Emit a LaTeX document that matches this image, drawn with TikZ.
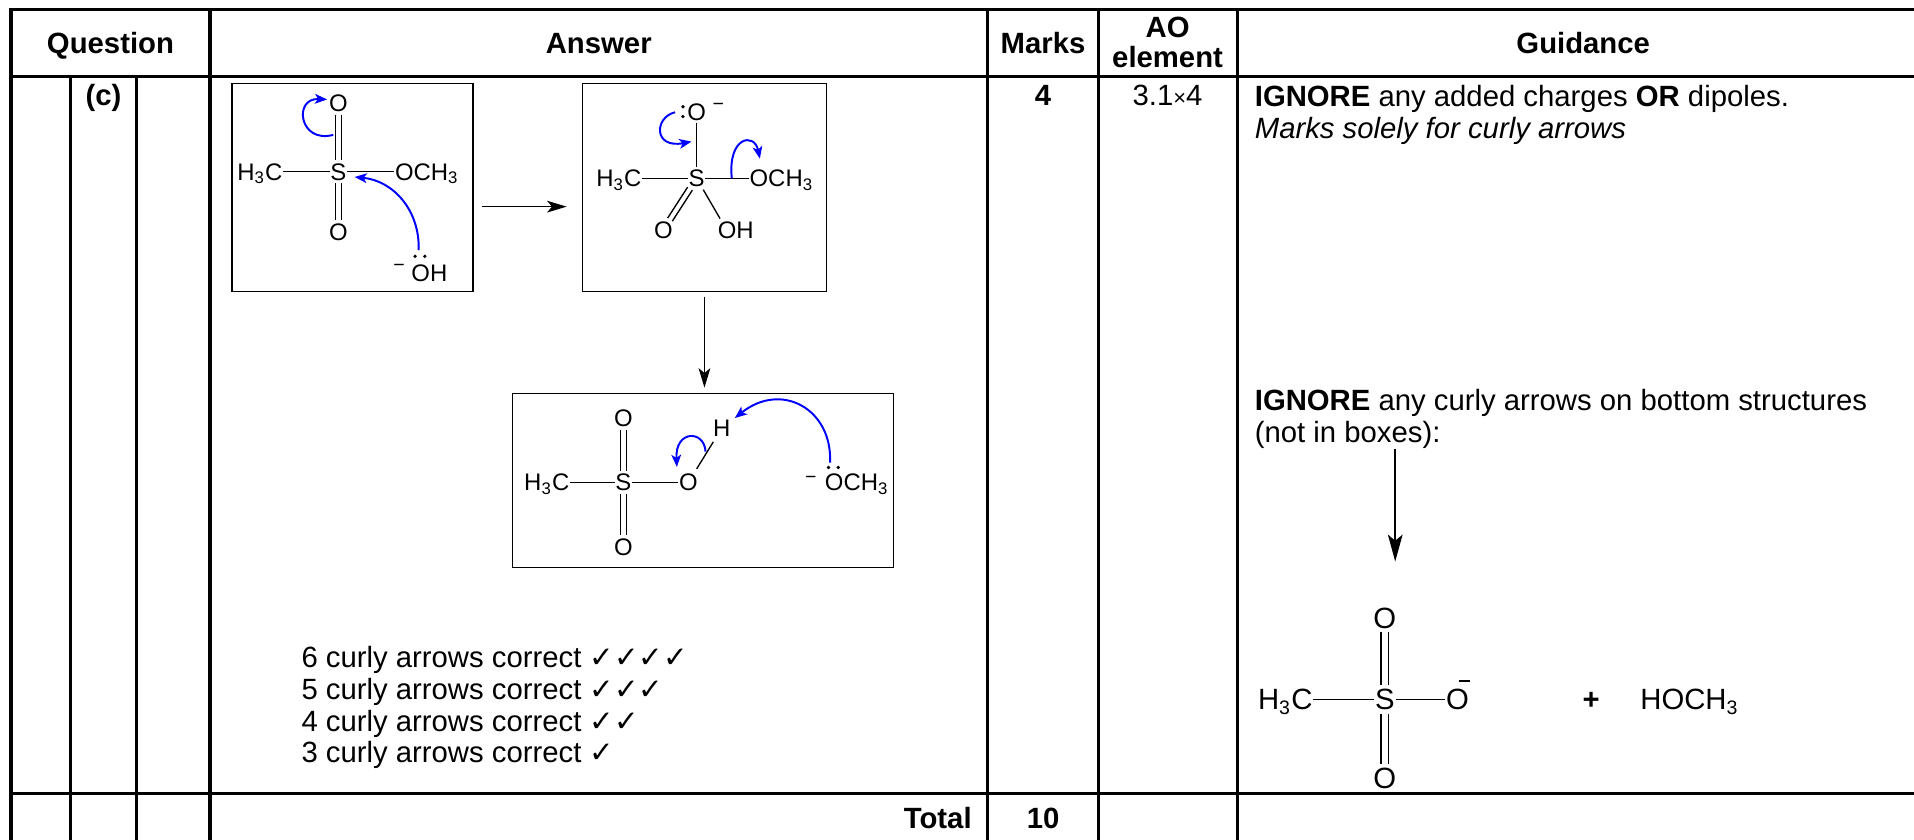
\documentclass[tikz,border=0pt]{standalone}
\usepackage{fontspec}
\setmainfont{Liberation Sans}
\newfontfamily\symfont{DejaVu Sans}
\usetikzlibrary{arrows.meta,calc}
\definecolor{arrblue}{RGB}{0,0,255}
\begin{document}
\begin{tikzpicture}[x=0.5pt,y=-0.5pt]
\tikzset{
  tbl/.style={line width=1.35pt, line cap=rect},
  txt/.style={font=\fontsize{12}{13.8}\selectfont, inner sep=0pt, outer sep=0pt, anchor=base},
  hdr/.style={txt, font=\fontsize{12}{13.8}\selectfont\bfseries},
  box/.style={draw, line width=0.6pt, inner sep=0pt, outer sep=0pt},
  chem/.style={font=\fontsize{9.8}{11}\selectfont, inner xsep=0.3pt, inner ysep=1.2pt, text height=7pt, text depth=0pt, outer sep=0pt},
  chemL/.style={font=\fontsize{12}{14}\selectfont, inner xsep=0.4pt, inner ysep=1.5pt, text height=8.6pt, text depth=0pt, outer sep=0pt},
  minus/.style={chem, font=\fontsize{8}{8}\selectfont},
  bond/.style={line width=0.55pt},
  bondL/.style={line width=0.65pt},
  curly/.style={draw=arrblue, line width=0.8pt, -{Stealth[length=5pt,width=4pt,inset=1.3pt]}},
  rxn/.style={line width=0.6pt, -{Stealth[length=8pt,width=4.8pt,inset=2pt]}},
  garrow/.style={line width=0.75pt, -{Stealth[length=11pt,width=6pt,inset=2.5pt]}},
  lp/.style={fill=black}
}
\fill[white] (0,0) rectangle (1568,688);
\useasboundingbox (0,0) rectangle (1568,688);

% ---------- table grid ----------
\draw[tbl] (9,8) -- (1580,8);
\draw[tbl] (9,62.8) -- (1580,62.8);
\draw[tbl] (9,650) -- (1580,650);
\draw[tbl] (9,8) -- (9,700);
\draw[tbl] (57.5,62.8) -- (57.5,700);
\draw[tbl] (112,62.8) -- (112,700);
\draw[tbl] (172,8) -- (172,700);
\draw[tbl] (809,8) -- (809,700);
\draw[tbl] (900,8) -- (900,700);
\draw[tbl] (1014,8) -- (1014,700);

% ---------- header ----------
\node[hdr] (hq) at (90.5,43.6) {Question};
\node[hdr] (ha) at (490.5,43.6) {Answer};
\node[hdr] (hm) at (854.5,43.6) {Marks};
\node[hdr] (hao) at (956.5,30.6) {AO};
\node[hdr] (hel) at (956.5,55.6) {element};
\node[hdr] (hg) at (1297,43.6) {Guidance};

% ---------- row texts ----------
\node[hdr] (qc) at (84.75,86.5) {(c)};
\node[hdr] (mk) at (854.5,86.5) {4};
\node[txt] (ao) at (956.5,86.5) {3.1{\fontsize{9}{9}\selectfont ×}4};
\node[txt, anchor=base west] (g1) at (1028,87.5) {\textbf{IGNORE} any added charges \textbf{OR} dipoles.};
\node[txt, anchor=base west] (g2) at (1028,113.5) {\textit{Marks solely for curly arrows}};
\node[txt, anchor=base west] (g3) at (1028,336.5) {\textbf{IGNORE} any curly arrows on bottom structures};
\node[txt, anchor=base west] (g4) at (1028,362.5) {(not in boxes):};

\node[txt, anchor=base west] (t6) at (247,547) {6 curly arrows correct {\symfont ✓✓✓✓}};
\node[txt, anchor=base west] (t5) at (247,573) {5 curly arrows correct {\symfont ✓✓✓}};
\node[txt, anchor=base west] (t4) at (247,599) {4 curly arrows correct {\symfont ✓✓}};
\node[txt, anchor=base west] (t3) at (247,625) {3 curly arrows correct {\symfont ✓}};

\node[hdr, anchor=base east] (tot) at (796,678.6) {Total};
\node[hdr] (ten) at (854.5,678.6) {10};

% ---------- boxes ----------
\node[box, minimum width=98.75pt, minimum height=85.35pt] (box1) at (288.75,153.65) {};
\node[box, minimum width=100.1pt, minimum height=85.35pt] (box2) at (577.1,153.65) {};
\node[box, minimum width=156.05pt, minimum height=71.4pt] (box3) at (575.75,393.6) {};

\coordinate (r1) at (0,169.3);
\draw[rxn, shorten <=3.6pt, shorten >=6.4pt] (box1.east |- r1) -- (box2.west |- r1);
\draw[rxn, shorten <=2pt, shorten >=2.3pt] (box2.south) -- (box2.south |- box3.north);

% ---------- box 1 ----------
\node[chem] (o1t) at (277.2,84.6) {O};
\node[chem] (s1) at (277.2,140.6) {S};
\node[chem] (o1b) at (277.2,189.8) {O};
\node[chem, anchor=east] (c1) at (232,140.6) {H\textsubscript{3}C};
\node[chem, anchor=west] (och1) at (323,140.6) {OCH\textsubscript{3}};
\node[chem, anchor=west] (oh1) at (336.5,224) {OH};
\node[minus] (m1) at (327,215.7) {−};
\fill[lp] (340,210) circle (0.75pt) (348,210) circle (0.75pt);
\draw[bond] (c1) -- (s1);
\draw[bond] (s1) -- (och1);
\draw[bond] ([xshift=-1.15pt]o1t.south) -- ([xshift=-1.15pt]s1.north);
\draw[bond] ([xshift=1.15pt]o1t.south) -- ([xshift=1.15pt]s1.north);
\draw[bond] ([xshift=-1.15pt]s1.south) -- ([xshift=-1.15pt]o1b.north);
\draw[bond] ([xshift=1.15pt]s1.south) -- ([xshift=1.15pt]o1b.north);
\coordinate (k1a) at (273,110.5);
\coordinate (k1b) at (268,81.5);
\draw[curly] (k1a) .. controls (245,118) and (240,80) .. (k1b);
\coordinate (k2a) at (343,205);
\coordinate (k2b) at (290.5,145);
\draw[curly] (k2a) .. controls (344,172) and (322,148) .. (k2b);

% ---------- box 2 ----------
\node[chem] (o2t) at (570.7,91.5) {O};
\node[minus] (m2) at (588.4,83.3) {−};
\fill[lp] (559.5,87.5) circle (0.75pt) (559.5,95.5) circle (0.75pt);
\node[chem] (s2) at (570.7,146.1) {S};
\node[chem, anchor=east] (c2) at (526,146.1) {H\textsubscript{3}C};
\node[chem, anchor=west] (och2) at (613.5,146.1) {OCH\textsubscript{3}};
\node[chem] (o2b) at (543.4,188.4) {O};
\node[chem, anchor=west] (oh2) at (587.5,188.4) {OH};
\coordinate (oh2c) at (595.3,188.4);
\draw[bond] (c2) -- (s2);
\draw[bond] (s2) -- (och2);
\draw[bond] (o2t) -- (s2);
\draw[bond] ($(s2)!0.2!(o2b)!1.15pt!90:(o2b)$) -- ($(o2b)!0.2!(s2)!1.15pt!-90:(s2)$);
\draw[bond] ($(s2)!0.2!(o2b)!1.15pt!-90:(o2b)$) -- ($(o2b)!0.2!(s2)!1.15pt!90:(s2)$);
\draw[bond] ($(s2)!0.22!(oh2c)$) -- ($(s2)!0.78!(oh2c)$);
\coordinate (k3a) at (553,92);
\coordinate (k3b) at (566.5,116);
\draw[curly] (k3a) .. controls (536,96) and (535,122) .. (k3b);
\coordinate (k4a) at (599.5,146);
\coordinate (k4b) at (622.5,130);
\draw[curly] (k4a) .. controls (596,112) and (618,108) .. (k4b);

% ---------- box 3 ----------
\node[chem] (s3) at (510.7,395.2) {S};
\node[chem] (o3t) at (510.7,342.7) {O};
\node[chem] (o3b) at (510.7,447.9) {O};
\node[chem, anchor=east] (c3) at (467,395.2) {H\textsubscript{3}C};
\node[chem] (o3) at (563.9,395.2) {O};
\node[chem] (h3) at (591.2,350.9) {H};
\node[chem, anchor=west] (och3) at (675.2,395.2) {OCH\textsubscript{3}};
\node[minus] (m3) at (664.3,389) {−};
\fill[lp] (678.7,383) circle (0.75pt) (686.7,383) circle (0.75pt);
\draw[bond] (c3) -- (s3);
\draw[bond] (s3) -- (o3);
\draw[bond] ([xshift=-1.15pt]o3t.south) -- ([xshift=-1.15pt]s3.north);
\draw[bond] ([xshift=1.15pt]o3t.south) -- ([xshift=1.15pt]s3.north);
\draw[bond] ([xshift=-1.15pt]s3.south) -- ([xshift=-1.15pt]o3b.north);
\draw[bond] ([xshift=1.15pt]s3.south) -- ([xshift=1.15pt]o3b.north);
\draw[bond] ($(o3)!0.25!(h3)$) -- ($(o3)!0.75!(h3)$);
\coordinate (k5a) at (680,379);
\coordinate (k5b) at (602,342.5);
\draw[curly] (k5a) .. controls (682,335) and (640,312) .. (k5b);
\coordinate (k6a) at (578,370);
\coordinate (k6b) at (554.5,382.5);
\draw[curly] (k6a) .. controls (577,352) and (553,352) .. (k6b);

% ---------- guidance structure ----------
\node[chemL] (o4t) at (1134.5,506) {O};
\node[chemL] (s4) at (1134.5,573) {S};
\node[chemL] (o4b) at (1134.5,637.5) {O};
\node[chemL, anchor=east] (c4) at (1076,573) {H\textsubscript{3}C};
\node[chemL] (o4) at (1194,573) {O};
\node[chemL] (plus) at (1303.5,573) {\textbf{+}};
\node[chemL, anchor=west] (hoch) at (1343,573) {HOCH\textsubscript{3}};
\draw[bondL] (c4) -- (s4);
\draw[bondL] (s4) -- (o4);
\draw[bondL] ([xshift=-1.5pt]o4t.south) -- ([xshift=-1.5pt]s4.north);
\draw[bondL] ([xshift=1.5pt]o4t.south) -- ([xshift=1.5pt]s4.north);
\draw[bondL] ([xshift=-1.5pt]s4.south) -- ([xshift=-1.5pt]o4b.north);
\draw[bondL] ([xshift=1.5pt]s4.south) -- ([xshift=1.5pt]o4b.north);
\draw[bondL] ([shift={(1,-3.5)}]o4.north) -- ([shift={(10,-3.5)}]o4.north);
\coordinate (ga1) at (1143,368);
\draw[garrow, shorten >=17.2pt] (ga1) -- (ga1 |- o4t.north);
\end{tikzpicture}
\end{document}
